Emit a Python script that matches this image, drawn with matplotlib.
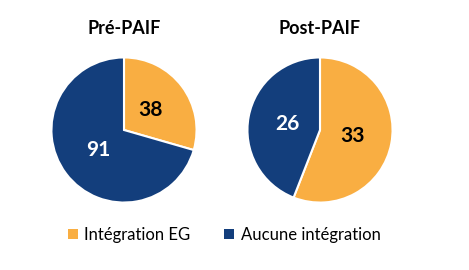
import matplotlib.pyplot as plt
from matplotlib.patches import Patch

plt.rcParams["font.family"] = ["Lato", "DejaVu Sans"]

TITLES = ["Pré-PAIF", "Post-PAIF"]
CATEGORIES = ["Intégration EG", "Aucune intégration"]
PRE = [38, 91]
POST = [33, 26]
COLORS = ["#F9AE42", "#133E7C"]
TEXT_COLORS = ["black", "white"]


def draw_pie(ax, values, title):
    wedges, _, autotexts = ax.pie(
        values, colors=COLORS, startangle=90, counterclock=False,
        autopct=lambda p: f"{round(p * sum(values) / 100):d}",
        pctdistance=0.45, radius=1.0,
        wedgeprops=dict(edgecolor="white", linewidth=1.5),
    )
    for t, c in zip(autotexts, TEXT_COLORS):
        t.set_color(c)
        t.set_fontsize(15)
        t.set_fontweight("bold")
    ax.set_xlim(-1.02, 1.02)
    ax.set_ylim(-1.02, 1.02)
    ax.set_aspect("equal")
    ax.axis("off")


fig = plt.figure(figsize=(4.69, 2.70), dpi=100)
centers = [(124, 130), (320, 130)]
r = 74
for (cx, cy), vals, title in zip(centers, [PRE, POST], TITLES):
    ax = fig.add_axes([(cx - r) / 469, 1 - (cy + r) / 270, 2 * r / 469, 2 * r / 270])
    draw_pie(ax, vals, title)
    fig.text(cx / 469, 1 - 28 / 270, title, ha="center", va="center",
             fontsize=13, fontweight="bold")

handles = [Patch(facecolor=c, edgecolor="none") for c in COLORS]
fig.legend(handles, CATEGORIES, loc="center", bbox_to_anchor=(224 / 469, 1 - 235 / 270),
           ncol=2, frameon=False, fontsize=12, handlelength=0.6, handleheight=0.6,
           handletextpad=0.4, columnspacing=2.0)

fig.savefig("out.png", dpi=100)
